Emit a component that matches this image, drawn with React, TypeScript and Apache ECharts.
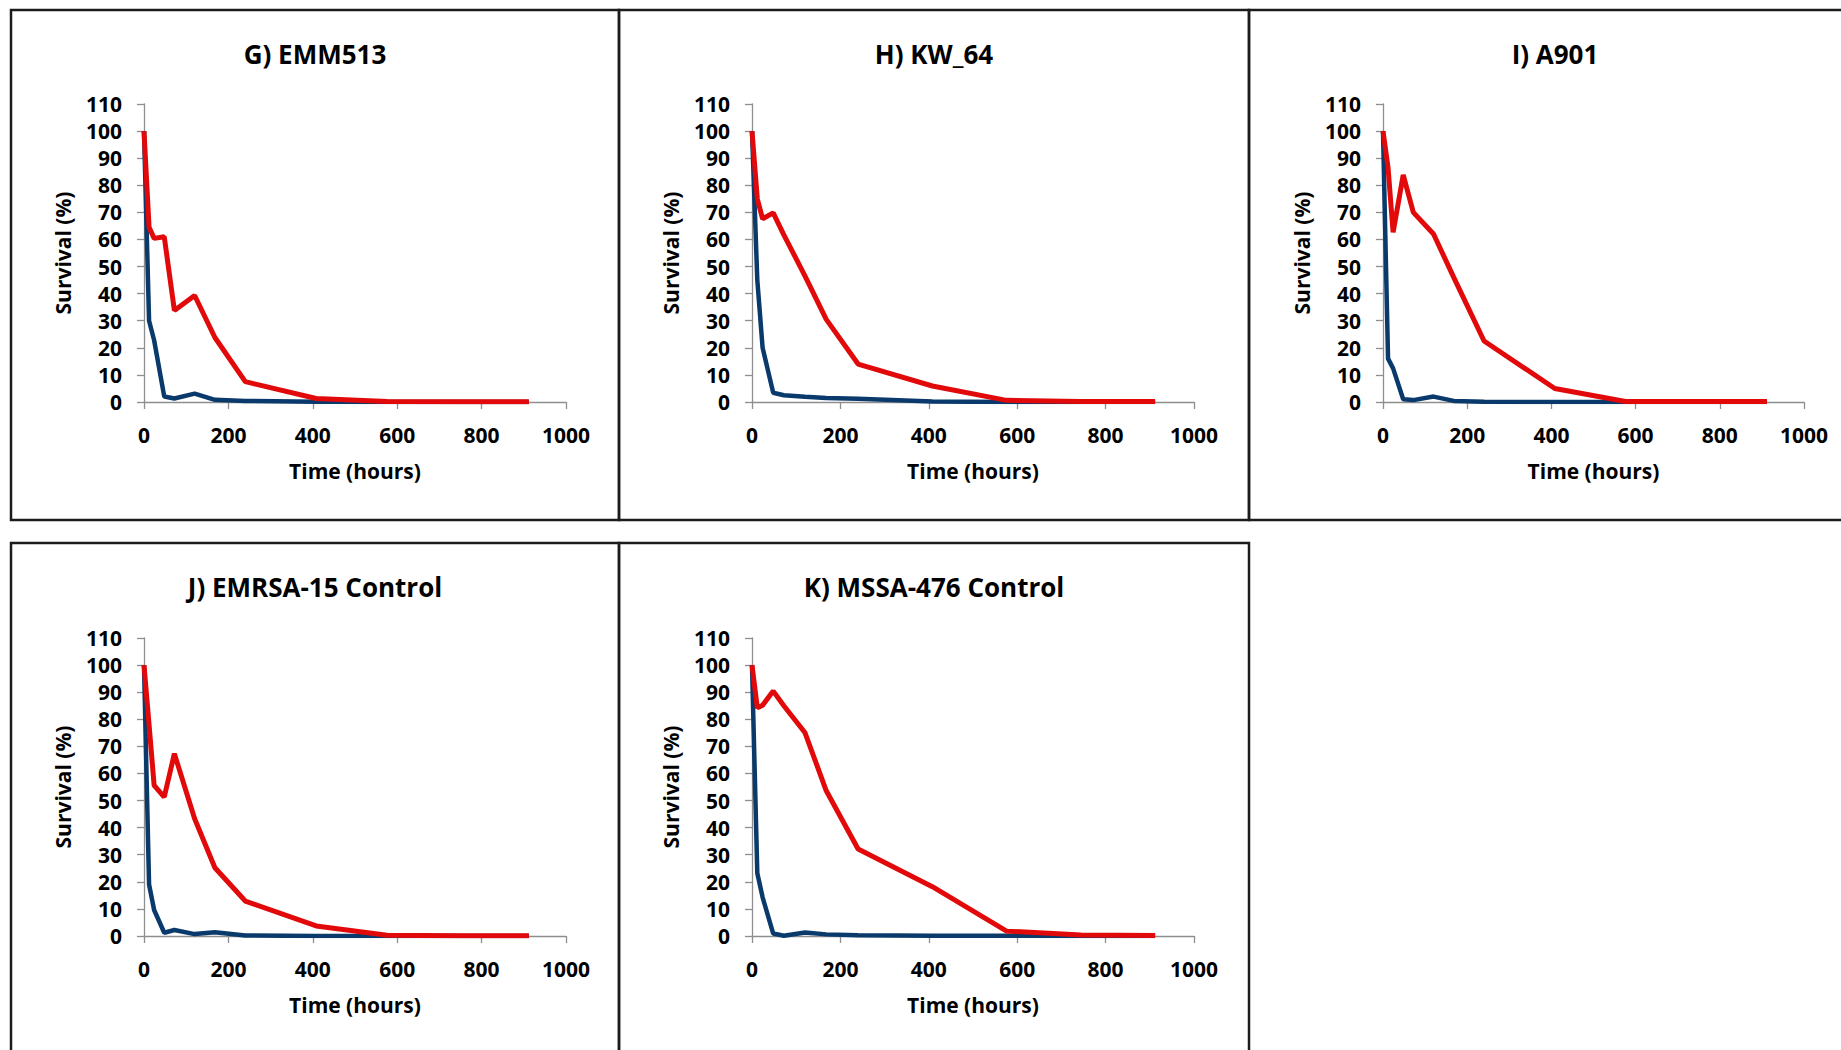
import React, { useEffect, useRef } from "react";
import * as echarts from "echarts";

// Sampling times (hours) shared by every strain
const timeHours = [0, 12, 24, 48, 72, 120, 168, 240, 408, 576, 744, 912];

// Survival (%) per strain: red and dark-blue curves
const emm513Red = [100, 64.5, 60.4, 61, 33.8, 39.3, 23.8, 7.5, 1.3, 0.2, 0.1, 0.1];
const emm513Blue = [100, 30, 22.8, 2.0, 1.3, 3.1, 0.8, 0.4, 0.1, 0, 0, 0];

const kw64Red = [100, 75, 67.6, 69.8, 61.7, 46.5, 30.5, 14, 5.9, 0.6, 0.2, 0.2];
const kw64Blue = [100, 45, 20, 3.4, 2.5, 1.9, 1.5, 1.2, 0.2, 0, 0, 0];

const a901Red = [100, 86.5, 62.6, 83.8, 70, 62, 46, 22.5, 5, 0.2, 0.2, 0.2];
const a901Blue = [100, 16, 12.4, 1.0, 0.7, 2.0, 0.4, 0.1, 0, 0, 0, 0];

const emrsa15Red = [100, 78, 55.6, 51.3, 67.3, 43.3, 25.2, 12.9, 3.7, 0.3, 0.1, 0.1];
const emrsa15Blue = [100, 19, 9.6, 1.2, 2.2, 0.7, 1.4, 0.2, 0, 0, 0, 0];

const mssa476Red = [100, 84.2, 85.2, 90.4, 85, 75, 53.6, 32.1, 18.2, 1.8, 0.4, 0.2];
const mssa476Blue = [100, 23.2, 14.3, 0.9, 0.1, 1.3, 0.6, 0.3, 0.1, 0.1, 0, 0];

const panelTitles = ["G) EMM513", "H) KW_64", "I) A901", "J) EMRSA-15 Control", "K) MSSA-476 Control"];
const redSeries = [emm513Red, kw64Red, a901Red, emrsa15Red, mssa476Red];
const blueSeries = [emm513Blue, kw64Blue, a901Blue, emrsa15Blue, mssa476Blue];

const xTitle = "Time (hours)";
const yTitle = "Survival (%)";

const RED = "#e10909";
const BLUE = "#0a3a6c";
const AXIS_GRAY = "#8e8e8e";
const FONT = "'Open Sans', 'Noto Sans', sans-serif";

// Panel frames and plot rectangles (pixels)
const frames = [
  { x: 11, y: 10, w: 608, h: 510 },
  { x: 619, y: 10, w: 630, h: 510 },
  { x: 1249, y: 10, w: 620, h: 510 },
  { x: 11, y: 543, w: 608, h: 530 },
  { x: 619, y: 543, w: 630, h: 530 },
];
const plots = [
  { left: 144, top: 104, width: 422, height: 298 },
  { left: 752, top: 104, width: 442, height: 298 },
  { left: 1383, top: 104, width: 421, height: 298 },
  { left: 144, top: 638, width: 422, height: 298 },
  { left: 752, top: 638, width: 442, height: 298 },
];
const titleCenters = [
  { x: 315, y: 54 },
  { x: 934, y: 54 },
  { x: 1555, y: 54 },
  { x: 315, y: 587 },
  { x: 934, y: 587 },
];

function pairs(values: number[]) {
  return timeHours.map((t, i) => [t, values[i]]);
}

export default function App() {
  const ref = useRef<HTMLDivElement>(null);

  useEffect(() => {
    if (!ref.current) return;
    const chart = echarts.init(ref.current, undefined, { renderer: "svg" });

    const labelStyle = { color: "#000", fontFamily: FONT, fontWeight: "bold" as const, fontSize: 21 };

    const grid = plots.map((p) => ({ ...p, containLabel: false }));
    const xAxis = plots.map((_, i) => ({
      type: "value",
      gridIndex: i,
      min: 0,
      max: 1000,
      interval: 200,
      name: xTitle,
      nameLocation: "middle",
      nameGap: 58,
      nameTextStyle: labelStyle,
      axisLine: { show: true, onZero: false, lineStyle: { color: AXIS_GRAY, width: 1.3 } },
      axisTick: { show: true, inside: false, length: 7, lineStyle: { color: AXIS_GRAY, width: 1.3 } },
      axisLabel: { ...labelStyle, margin: 22, formatter: (v: number) => String(v) },
      splitLine: { show: false },
    }));
    const yAxis = plots.map((_, i) => ({
      type: "value",
      gridIndex: i,
      min: 0,
      max: 110,
      interval: 10,
      name: yTitle,
      nameLocation: "middle",
      nameGap: 71,
      nameTextStyle: labelStyle,
      axisLine: { show: true, lineStyle: { color: AXIS_GRAY, width: 1.3 } },
      axisTick: { show: true, inside: false, length: 7, lineStyle: { color: AXIS_GRAY, width: 1.3 } },
      axisLabel: { ...labelStyle, margin: 22, formatter: (v: number) => String(v) },
      splitLine: { show: false },
    }));

    const series: any[] = [];
    plots.forEach((_, i) => {
      series.push({
        type: "line",
        xAxisIndex: i,
        yAxisIndex: i,
        data: pairs(blueSeries[i]),
        symbol: "none",
        lineStyle: { color: BLUE, width: 4.5 },
        z: 2,
      });
      series.push({
        type: "line",
        xAxisIndex: i,
        yAxisIndex: i,
        data: pairs(redSeries[i]),
        symbol: "none",
        lineStyle: { color: RED, width: 5 },
        z: 3,
      });
    });

    const title = panelTitles.map((text, i) => ({
      text,
      left: titleCenters[i].x,
      top: titleCenters[i].y - 13,
      textAlign: "center",
      padding: 0,
      textStyle: { color: "#000", fontFamily: FONT, fontWeight: "bold", fontSize: 26 },
    }));

    const graphic = frames.map((f) => ({
      type: "rect",
      shape: { x: f.x, y: f.y, width: f.w, height: f.h },
      style: { fill: "none", stroke: "#1c1c1c", lineWidth: 2.5 },
      silent: true,
      z: 10,
    }));

    chart.setOption({
      animation: false,
      backgroundColor: "#ffffff",
      title,
      grid,
      xAxis,
      yAxis,
      series,
      graphic,
    });

    return () => chart.dispose();
  }, []);

  return (
    <div
      ref={ref}
      style={{ position: "absolute", left: 0, top: 0, width: 1841, height: 1050, background: "#fff" }}
    />
  );
}
